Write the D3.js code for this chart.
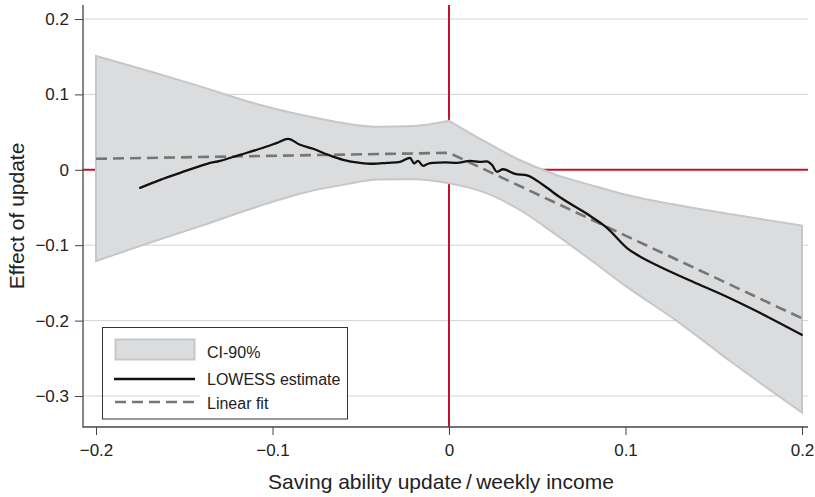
<!DOCTYPE html>
<html>
<head>
<meta charset="utf-8">
<script src="https://cdn.jsdelivr.net/npm/d3@7"></script>
<style>
  html, body { margin: 0; padding: 0; background: #fff; }
  svg { display: block; font-family: "Liberation Sans", Arial, Helvetica, sans-serif; }
</style>
</head>
<body>
<svg id="chart" width="815" height="497"></svg>
<script>
// ---------- data ----------
const xTicks = [-0.2, -0.1, 0, 0.1, 0.2];
const yTicks = [-0.3, -0.2, -0.1, 0, 0.1, 0.2];

// CI-90% band
const bandX     = [-0.2, -0.17, -0.14, -0.11, -0.08, -0.06, -0.04, -0.02, 0, 0.02, 0.04, 0.06, 0.08, 0.1, 0.13, 0.16, 0.2];
const bandUpper = [0.151, 0.131, 0.110, 0.088, 0.071, 0.062, 0.057, 0.058, 0.065, 0.038, 0.013, -0.006, -0.020, -0.033, -0.047, -0.059, -0.074];
const bandLower = [-0.121, -0.097, -0.074, -0.050, -0.029, -0.020, -0.013, -0.0126, -0.018, -0.030, -0.053, -0.085, -0.119, -0.154, -0.202, -0.255, -0.322];

// LOWESS estimate
const lowessX = [-0.175, -0.1636, -0.1523, -0.137, -0.1297, -0.1183, -0.1053, -0.0974, -0.0912, -0.0844, -0.077, -0.0685, -0.06, -0.0504, -0.043, -0.0351, -0.0277, -0.0221, -0.0198, -0.0176, -0.0147, -0.0119, -0.0091, -0.0023, 0.0045, 0.0119, 0.0176, 0.0215, 0.0243, 0.0272, 0.0306, 0.0374, 0.0442, 0.0532, 0.0629, 0.0781, 0.0895, 0.1014, 0.1065, 0.1195, 0.1382, 0.1574, 0.1761, 0.1999];
const lowessY = [-0.0239, -0.0133, -0.004, 0.008, 0.0119, 0.0199, 0.0292, 0.0358, 0.0411, 0.0332, 0.0279, 0.0199, 0.0133, 0.0093, 0.008, 0.0093, 0.0106, 0.0159, 0.0086, 0.0119, 0.0053, 0.008, 0.0093, 0.0099, 0.0093, 0.0119, 0.0106, 0.0113, 0.0066, -0.0027, 0.0007, -0.0053, -0.0073, -0.0199, -0.0365, -0.0584, -0.0769, -0.1048, -0.1127, -0.1286, -0.1485, -0.1684, -0.1897, -0.2188];

// Linear fit (piecewise, kink at 0)
const linX = [-0.2, 0, 0.2];
const linY = [0.0146, 0.0225, -0.197];

const legendLabels = ["CI-90%", "LOWESS estimate", "Linear fit"];

// ---------- chart ----------
const svg = d3.select("#chart");
const x = d3.scaleLinear().domain([-0.2, 0.2]).range([96, 802]);
const y = d3.scaleLinear().domain([-0.3, 0.2]).range([396, 19]);
const pLeft = 83, pRight = 808, pTop = 5, pBottom = 427;
const textCol = "#222";
const fmt = d => d === 0 ? "0" : d3.format(".1f")(d);

// gridlines
svg.append("g").selectAll("line").data(yTicks.filter(d => d !== 0)).join("line")
  .attr("x1", pLeft).attr("x2", pRight)
  .attr("y1", d => y(d)).attr("y2", d => y(d))
  .attr("stroke", "#d2d2d2").attr("stroke-width", 1);

// red reference lines
svg.append("line").attr("x1", pLeft).attr("x2", pRight).attr("y1", y(0)).attr("y2", y(0))
  .attr("stroke", "#c8102e").attr("stroke-width", 2);
svg.append("line").attr("x1", x(0)).attr("x2", x(0)).attr("y1", pTop).attr("y2", pBottom)
  .attr("stroke", "#c8102e").attr("stroke-width", 2);

// band: upper bound has a kink at 0, so it is drawn as two smooth pieces
const upLeft = bandX.map((d, i) => [d, bandUpper[i]]).filter(p => p[0] <= 0);
const upRight = bandX.map((d, i) => [d, bandUpper[i]]).filter(p => p[0] >= 0);
const lowRev = bandX.map((d, i) => [d, bandLower[i]]).reverse();
const lineM = d3.line().x(p => x(p[0])).y(p => y(p[1])).curve(d3.curveMonotoneX);
const bandPath = lineM(upLeft) + lineM(upRight).replace(/^M/, "L") + lineM(lowRev).replace(/^M/, "L") + "Z";
svg.append("path")
  .attr("d", bandPath)
  .attr("fill", "#dbdcde").attr("stroke", "#c6c7c9").attr("stroke-width", 2)
  .attr("stroke-linejoin", "miter");

// linear fit
const linData = linX.map((d, i) => ({x: d, y: linY[i]}));
svg.append("path").datum(linData)
  .attr("d", d3.line().x(d => x(d.x)).y(d => y(d.y)))
  .attr("fill", "none").attr("stroke", "#767676").attr("stroke-width", 2.6)
  .attr("stroke-dasharray", "11,6");

// lowess
const lowData = lowessX.map((d, i) => ({x: d, y: lowessY[i]}));
svg.append("path").datum(lowData)
  .attr("d", d3.line().x(d => x(d.x)).y(d => y(d.y)).curve(d3.curveMonotoneX))
  .attr("fill", "none").attr("stroke", "#111").attr("stroke-width", 2.3)
  .attr("stroke-linejoin", "round").attr("stroke-linecap", "round");

// axes
const yAxis = svg.append("g").attr("transform", `translate(${pLeft},0)`)
  .call(d3.axisLeft(y).tickValues(yTicks).tickSize(8).tickPadding(6).tickFormat(fmt));
yAxis.select(".domain").remove();
yAxis.selectAll("line").attr("stroke", "#444");
yAxis.selectAll("text").attr("font-size", 17).attr("fill", textCol);
yAxis.attr("font-family", null);

const xAxis = svg.append("g").attr("transform", `translate(0,${pBottom})`)
  .call(d3.axisBottom(x).tickValues(xTicks).tickSize(8).tickPadding(9).tickFormat(fmt));
xAxis.select(".domain").remove();
xAxis.selectAll("line").attr("stroke", "#444");
xAxis.selectAll("text").attr("font-size", 17).attr("fill", textCol);
xAxis.attr("font-family", null);

svg.append("line").attr("x1", pLeft).attr("x2", pLeft).attr("y1", pTop).attr("y2", pBottom + 0.5)
  .attr("stroke", "#444").attr("stroke-width", 1.3);
svg.append("line").attr("x1", pLeft).attr("x2", pRight).attr("y1", pBottom).attr("y2", pBottom)
  .attr("stroke", "#444").attr("stroke-width", 1.3);

// titles
svg.append("text").attr("x", 441).attr("y", 489)
  .attr("text-anchor", "middle").attr("font-size", 21).attr("fill", textCol)
  .text("Saving ability update\u2009/\u2009weekly income");
svg.append("text").attr("transform", `translate(24,${(pTop + pBottom) / 2}) rotate(-90)`)
  .attr("text-anchor", "middle").attr("font-size", 21).attr("fill", textCol)
  .text("Effect of update");

// legend
const lg = svg.append("g");
lg.append("rect").attr("x", 200).attr("y", 327).attr("width", 148).attr("height", 92).attr("fill", "#fff");
lg.append("rect").attr("x", 102.5).attr("y", 327.5).attr("width", 245).attr("height", 91.5)
  .attr("fill", "none").attr("stroke", "#333").attr("stroke-width", 1);
lg.append("rect").attr("x", 115.5).attr("y", 339.5).attr("width", 79).attr("height", 20)
  .attr("fill", "#dbdcde").attr("stroke", "#c6c7c9").attr("stroke-width", 2);
lg.append("line").attr("x1", 114).attr("x2", 195).attr("y1", 379).attr("y2", 379)
  .attr("stroke", "#111").attr("stroke-width", 2.3);
lg.append("line").attr("x1", 115).attr("x2", 195).attr("y1", 402).attr("y2", 402)
  .attr("stroke", "#767676").attr("stroke-width", 2.6).attr("stroke-dasharray", "11,6");
const ly = [352, 379, 403];
lg.selectAll("text.lab").data(legendLabels).join("text").attr("class", "lab")
  .attr("x", 207).attr("y", (d, i) => ly[i]).attr("dy", "0.35em")
  .attr("font-size", 16).attr("fill", textCol).text(d => d);
</script>
</body>
</html>
